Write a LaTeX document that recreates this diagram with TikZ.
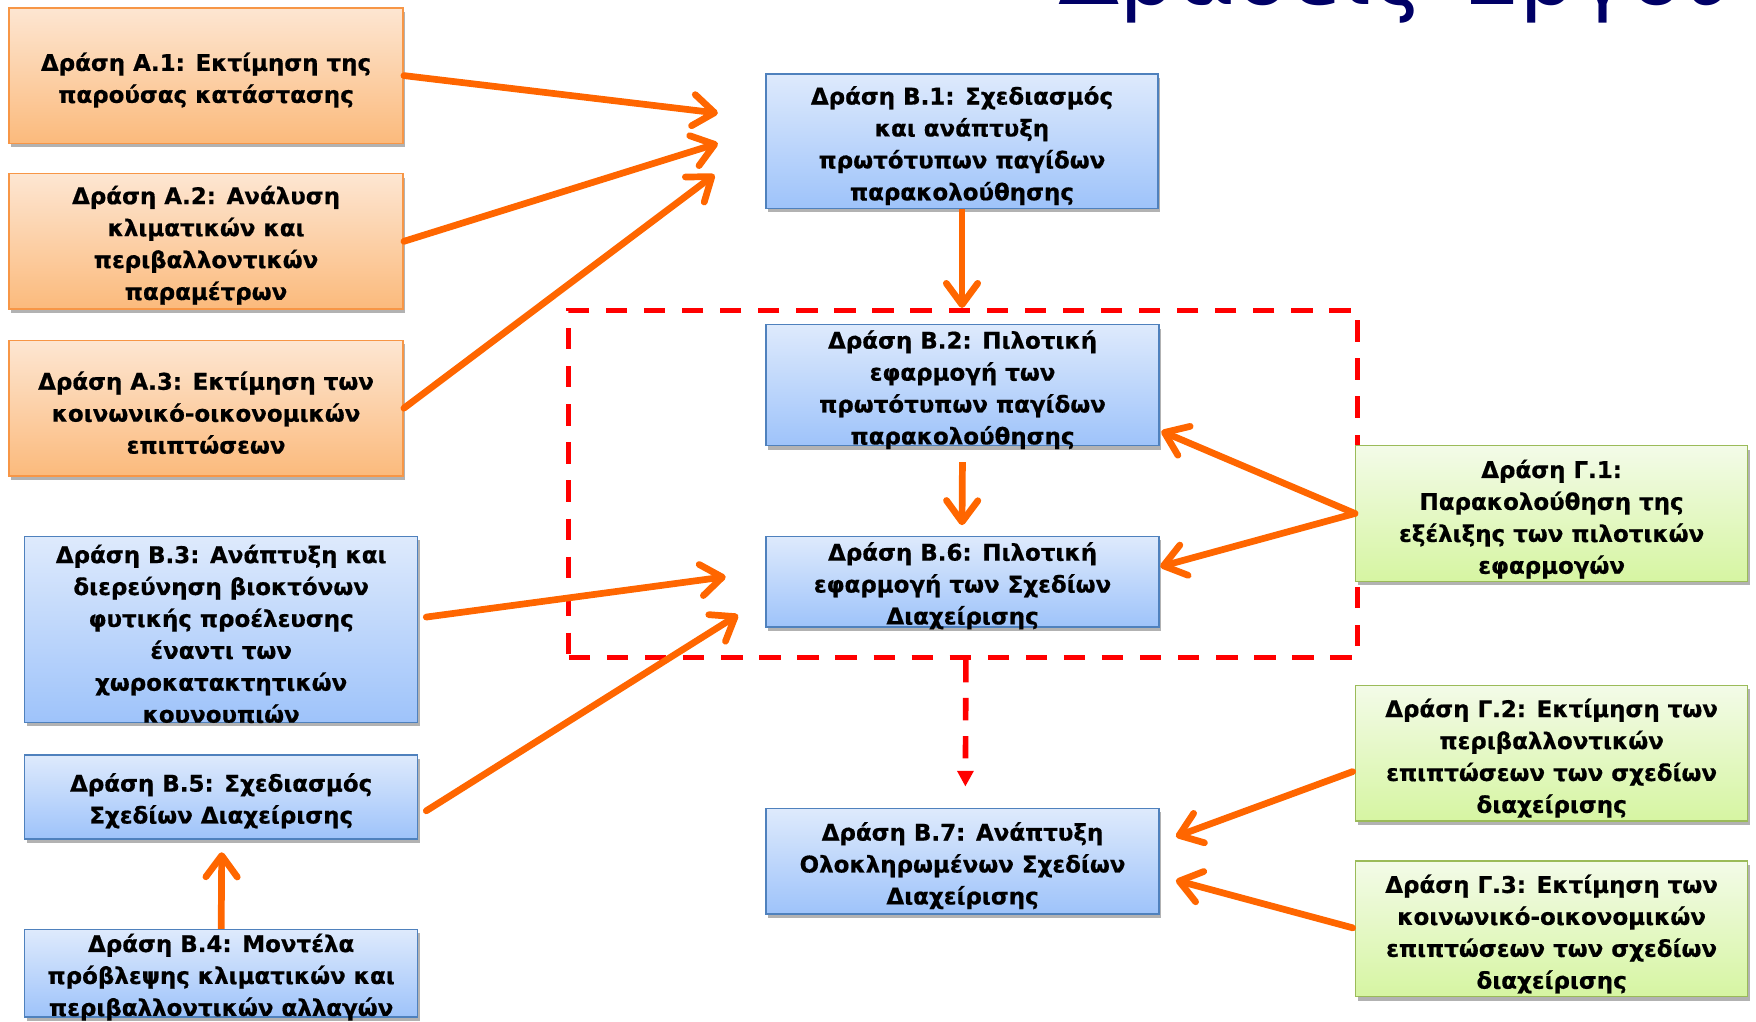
\documentclass[tikz,border=0pt]{standalone}
\usepackage{fontspec}
\setmainfont{DejaVu Sans}
\usetikzlibrary{arrows.meta,shadows,calc}
\definecolor{otop}{RGB}{253,230,210}
\definecolor{obot}{RGB}{251,186,124}
\definecolor{oborder}{RGB}{247,150,70}
\definecolor{btop}{RGB}{222,234,252}
\definecolor{bbot}{RGB}{158,195,250}
\definecolor{bborder}{RGB}{79,129,189}
\definecolor{gtop}{RGB}{243,251,232}
\definecolor{gbot}{RGB}{214,245,162}
\definecolor{gborder}{RGB}{155,187,89}
\definecolor{arrowc}{RGB}{255,102,0}
\definecolor{navy}{RGB}{0,0,102}
\tikzset{
  actbox/.style={draw, line width=1.3pt, inner sep=0pt,
    drop shadow={shadow xshift=2pt, shadow yshift=-3.5pt, opacity=0.3, fill=black}},
  obox/.style={actbox, draw=oborder, top color=otop, bottom color=obot},
  bbox/.style={actbox, draw=bborder, top color=btop, bottom color=bbot},
  gbox/.style={actbox, draw=gborder, top color=gtop, bottom color=gbot},
  txt/.style={inner sep=0pt, align=center, yshift=-2.5pt,
    font=\fontsize{20.5pt}{28.5pt}\selectfont\bfseries\addfontfeatures{FakeBold=0.6}},
  oarrow/.style={draw=arrowc, line width=6pt, line cap=round,
    -{Straight Barb[length=19pt,width=28pt,round]}},
  reddash/.style={draw=red, line width=4.5pt, dash pattern=on 19pt off 15pt},
}
\begin{document}
\begin{tikzpicture}[x=1pt,y=-1pt]
\useasboundingbox (0,0) rectangle (1568,912);

% title (partly above the page, as in the reference)
\node[inner sep=0pt, anchor=base west, text=navy, font=\fontsize{80pt}{90pt}\selectfont] (title) at (945,4) {Δράσεις Έργου};

% dashed group
\node[reddash, minimum width=704pt, minimum height=310pt, inner sep=0pt] (grp) at (860,432) {};

% boxes
\node[obox, minimum width=352pt, minimum height=121pt] (a1) at (184,67.5) {};
\node[obox, minimum width=352pt, minimum height=121pt] (a2) at (184,215.5) {};
\node[obox, minimum width=352pt, minimum height=121pt] (a3) at (184,364.5) {};
\node[bbox, minimum width=350pt, minimum height=120pt] (b1) at (859,126) {};
\node[bbox, minimum width=351pt, minimum height=108pt] (b2) at (859.5,344) {};
\node[bbox, minimum width=351pt, minimum height=81pt] (b6) at (859.5,519.5) {};
\node[bbox, minimum width=351pt, minimum height=94pt] (b7) at (859.5,769) {};
\node[bbox, minimum width=351pt, minimum height=166pt] (b3) at (197.5,562) {};
\node[bbox, minimum width=351pt, minimum height=75pt] (b5) at (197.5,711.5) {};
\node[bbox, minimum width=351pt, minimum height=78pt] (b4) at (197.5,869) {};
\node[gbox, minimum width=350pt, minimum height=121pt] (g1) at (1385.5,458.5) {};
\node[gbox, minimum width=350pt, minimum height=121pt] (g2) at (1385.5,672.5) {};
\node[gbox, minimum width=350pt, minimum height=121pt] (g3) at (1385.5,829.5) {};

% texts
\node[txt] (a1t) at (184,69) {Δράση Α.1: Εκτίμηση της\\παρούσας κατάστασης};
\node[txt] (a2t) at (184,216.5) {Δράση Α.2: Ανάλυση\\κλιματικών και\\περιβαλλοντικών\\παραμέτρων};
\node[txt] (a3t) at (184,366) {Δράση Α.3: Εκτίμηση των\\κοινωνικό-οικονομικών\\επιπτώσεων};
\node[txt] (b1t) at (859,127.5) {Δράση Β.1: Σχεδιασμός\\και ανάπτυξη\\πρωτότυπων παγίδων\\παρακολούθησης};
\node[txt] (b2t) at (859.5,345.5) {Δράση Β.2: Πιλοτική\\εφαρμογή των\\πρωτότυπων παγίδων\\παρακολούθησης};
\node[txt] (b6t) at (859.5,520.5) {Δράση Β.6: Πιλοτική\\εφαρμογή των Σχεδίων\\Διαχείρισης};
\node[txt] (b7t) at (859.5,770.5) {Δράση Β.7: Ανάπτυξη\\Ολοκληρωμένων Σχεδίων\\Διαχείρισης};
\node[txt] (b3t) at (197.5,563.5) {Δράση Β.3: Ανάπτυξη και\\διερεύνηση βιοκτόνων\\φυτικής προέλευσης\\έναντι των\\χωροκατακτητικών\\κουνουπιών};
\node[txt] (b5t) at (197.5,712.5) {Δράση Β.5: Σχεδιασμός\\Σχεδίων Διαχείρισης};
\node[txt] (b4t) at (197.5,870) {Δράση Β.4: Μοντέλα\\πρόβλεψης κλιματικών και\\περιβαλλοντικών αλλαγών};
\node[txt] (g1t) at (1385.5,461) {Δράση Γ.1:\\Παρακολούθηση της\\εξέλιξης των πιλοτικών\\εφαρμογών};
\node[txt] (g2t) at (1385.5,674.5) {Δράση Γ.2: Εκτίμηση των\\περιβαλλοντικών\\επιπτώσεων των σχεδίων\\διαχείρισης};
\node[txt] (g3t) at (1385.5,831.5) {Δράση Γ.3: Εκτίμηση των\\κοινωνικό-οικονομικών\\επιπτώσεων των σχεδίων\\διαχείρισης};

% arrow tip coordinates
\coordinate (tA1) at (641,101);
\coordinate (tA2) at (641,128);
\coordinate (tA3) at (638,156);
\coordinate (tB1) at (859,275);
\coordinate (tB2) at (859,469);
\coordinate (tG1a) at (1037,385);
\coordinate (tG1b) at (1036,506);
\coordinate (tB3) at (648,515);
\coordinate (tB5) at (659,549);
\coordinate (tB4) at (198,761);
\coordinate (tG2) at (1050,747);
\coordinate (tG3) at (1050,786);

% connectors
\draw[oarrow] (a1.east) -- (tA1);
\draw[oarrow] (a2.east) -- (tA2);
\draw[oarrow] (a3.east) -- (tA3);
\draw[oarrow, line cap=butt] (b1.south) -- (tB1);
\draw[oarrow, line cap=butt, shorten <=14pt] (b2.south) -- (tB2);
\draw[oarrow] (g1.west) -- (tG1a);
\draw[oarrow] (g1.west) -- (tG1b);
\draw[oarrow] ($(b3.east)+(7,-11)$) -- (tB3);
\draw[oarrow] ($(b5.east)+(7,12.5)$) -- (tB5);
\draw[oarrow, line cap=butt] (b4.north) -- (tB4);
\draw[oarrow] ($(g2.west)+(-2,16.5)$) -- (tG2);
\draw[oarrow] ($(g3.west)+(-2,-1)$) -- (tG3);
\draw[draw=red, line width=5pt, dash pattern=on 20pt off 14pt, -{Triangle[length=14pt,width=14pt]}]
  ($(grp.south)+(2.5,0)$) -- ($(b7.north)+(2.5,-19)$);
\end{tikzpicture}
\end{document}
